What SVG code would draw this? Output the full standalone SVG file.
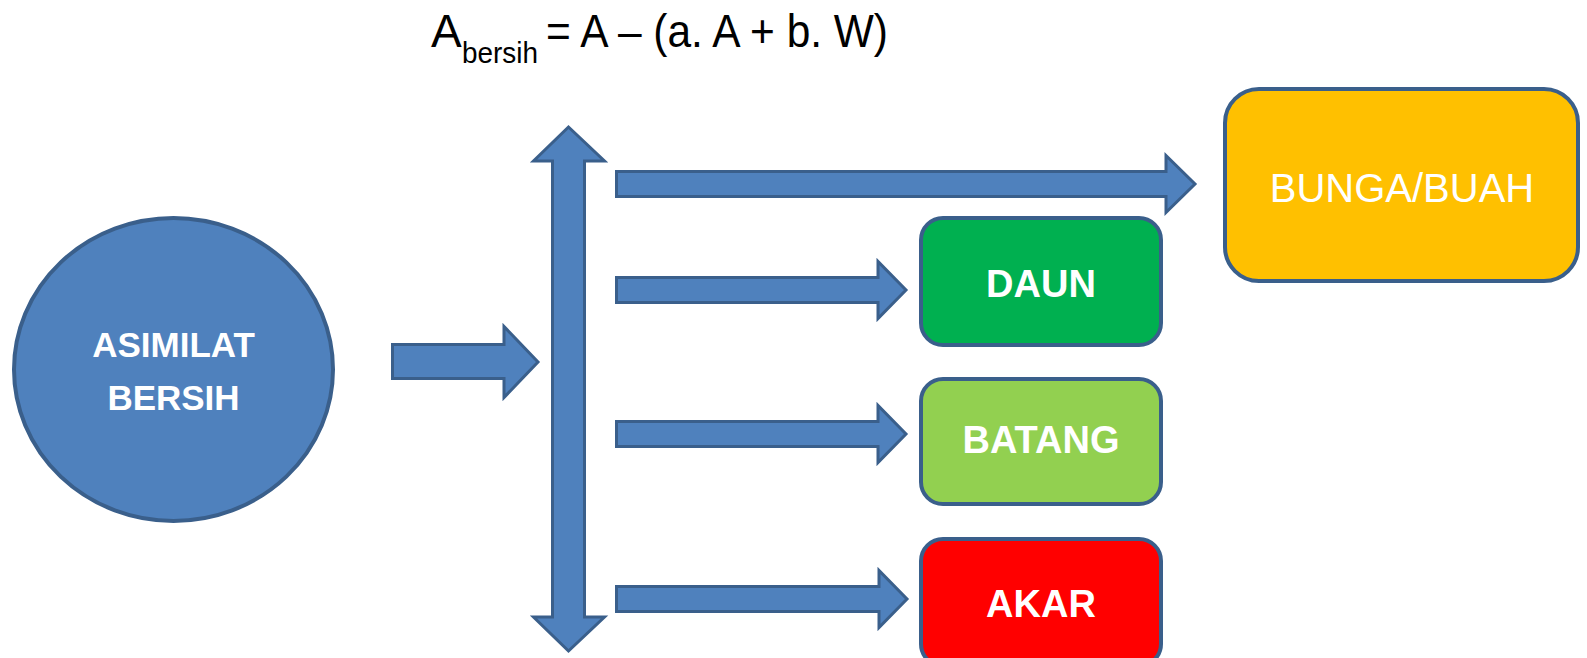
<svg xmlns="http://www.w3.org/2000/svg" width="1587" height="658" viewBox="0 0 1587 658">
<style>
.arrow{fill:#4F81BD;stroke:#3A5F8B;stroke-width:3;stroke-linejoin:miter}
.node{stroke:#3A5F8B;stroke-width:4}
.lbl{font-family:"Liberation Sans",Arial,sans-serif;fill:#FFFFFF;text-anchor:middle}
.b{font-weight:bold;font-size:38px}
.eq{font-family:"Liberation Sans",Arial,sans-serif;fill:#000000}
</style>
<rect width="1587" height="658" fill="#FFFFFF"/>
<g id="formula">
<text class="eq" font-size="46" x="431" y="47">A</text>
<text class="eq" font-size="30" x="462" y="63" textLength="76" lengthAdjust="spacingAndGlyphs">bersih</text>
<text class="eq" font-size="46" x="546" y="47" textLength="342" lengthAdjust="spacingAndGlyphs">= A – (a. A + b. W)</text>
</g>
<g id="connectors">
<path class="arrow" d="M392.5,344.5 H504 V326.5 L538,362 L504,397.5 V378.5 H392.5 Z"/>
<path class="arrow" d="M568.5,127 L604.5,161 H584.5 V617 H604.5 L568.5,651 L533.5,617 H552.5 V161 H533.5 Z"/>
<path class="arrow" d="M616.5,171.5 H1166 V155.5 L1195,184 L1166,212.5 V196.5 H616.5 Z"/>
<path class="arrow" d="M616.5,277.5 H878 V261.5 L906,290 L878,318.5 V302.5 H616.5 Z"/>
<path class="arrow" d="M616.5,421.5 H878 V405.5 L906,434 L878,462.5 V446.5 H616.5 Z"/>
<path class="arrow" d="M616.5,586.5 H879 V570.5 L907,599 L879,627.5 V611.5 H616.5 Z"/>
</g>
<g id="asimilat">
<ellipse class="node" cx="173.5" cy="369.5" rx="159.5" ry="151.5" fill="#4F81BD"/>
<text class="lbl b" x="173.5" y="357" font-size="35" style="font-size:35px">ASIMILAT</text>
<text class="lbl b" x="173.5" y="410" style="font-size:35px">BERSIH</text>
</g>
<g id="bunga">
<rect class="node" x="1225" y="89" width="353" height="192" rx="34" fill="#FFC000"/>
<text class="lbl" x="1402" y="202" font-size="40">BUNGA/BUAH</text>
</g>
<g id="daun">
<rect class="node" x="921" y="218" width="240" height="127" rx="22" fill="#00B050"/>
<text class="lbl b" x="1041" y="297">DAUN</text>
</g>
<g id="batang">
<rect class="node" x="921" y="379" width="240" height="125" rx="22" fill="#92D050"/>
<text class="lbl b" x="1041" y="453">BATANG</text>
</g>
<g id="akar">
<rect class="node" x="921" y="539" width="240" height="127" rx="22" fill="#FF0000"/>
<text class="lbl b" x="1041" y="617">AKAR</text>
</g>
</svg>
